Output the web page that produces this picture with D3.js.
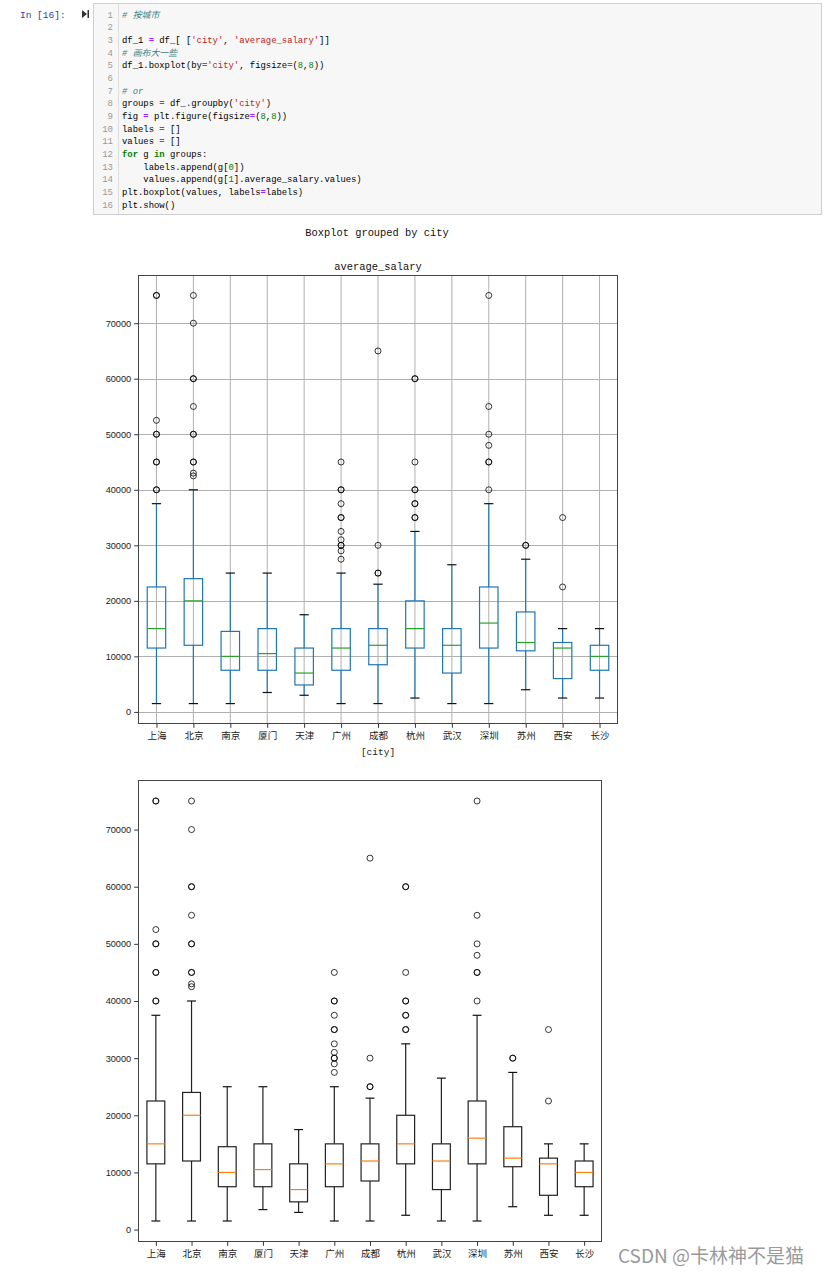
<!DOCTYPE html>
<html><head><meta charset="utf-8">
<script src="https://cdn.jsdelivr.net/npm/d3@7"></script>
<style>
html,body{margin:0;padding:0;background:#fff;}
svg{display:block;}
</style></head>
<body>
<svg id="c" width="825" height="1276"></svg>
<script>
// ---------- data ----------
const cities = ["上海","北京","南京","厦门","天津","广州","成都","杭州","武汉","深圳","苏州","西安","长沙"];
const whiskerLow  = [1500,1500,1500,3500,3000,1500,1500,2500,1500,1500,4000,2500,2500];
const q1          = [11500,12000,7500,7500,4850,7500,8500,11500,7000,11500,11000,6000,7500];
const median      = [15000,20000,10000,10500,7000,11500,12000,15000,12000,16000,12500,11500,10000];
const q3          = [22500,24000,14500,15000,11500,15000,15000,20000,15000,22500,18000,12500,12000];
const whiskerHigh = [37500,40000,25000,25000,17500,25000,23000,32500,26500,37500,27500,15000,15000];
const outliers = [
  [40000,40000,45000,45000,50000,50000,52500,75000,75000],
  [42500,43000,45000,45000,50000,50000,55000,60000,60000,70000,75000],
  [],
  [],
  [],
  [27500,29000,30000,30000,31000,32500,35000,35000,37500,40000,40000,45000],
  [25000,25000,30000,65000],
  [35000,35000,37500,37500,40000,40000,45000,60000,60000],
  [],
  [40000,45000,45000,48000,50000,55000,75000],
  [30000,30000],
  [22500,35000],
  []
];
const yTicks = [0,10000,20000,30000,40000,50000,60000,70000];
const yDomain = [-2175, 78675];

const codeLines = [
  [["# 按城市","cm"]],
  [],
  [["df_1 ",""],["=","op"],[" df_[ [",""],["'city'","st"],[", ",""],["'average_salary'","st"],["]]",""]],
  [["# 画布大一些","cm"]],
  [["df_1.boxplot(by",""],["=","op"],["'city'","st"],[", figsize",""],["=","op"],["(",""],["8","nu"],[",",""],["8","nu"],["))",""]],
  [],
  [["# or","cm"]],
  [["groups ",""],["=","op"],[" df_.groupby(",""],["'city'","st"],[")",""]],
  [["fig ",""],["=","op"],[" plt.figure(figsize",""],["=","op"],["(",""],["8","nu"],[",",""],["8","nu"],["))",""]],
  [["labels ",""],["=","op"],[" []",""]],
  [["values ",""],["=","op"],[" []",""]],
  [["for","kw"],[" g ",""],["in","kw"],[" groups:",""]],
  [["    labels.append(g[",""],["0","nu"],["])",""]],
  [["    values.append(g[",""],["1","nu"],["].average_salary.values)",""]],
  [["plt.boxplot(values, labels",""],["=","op"],["labels)",""]],
  [["plt.show()",""]]
];

// ---------- drawing ----------
const svg = d3.select("#c");
const latin = "'Liberation Sans', Arial, sans-serif";
const cjk = "'Noto Sans CJK SC', 'Liberation Sans', sans-serif";
const mono = "'Liberation Mono', 'Noto Sans CJK SC', monospace";

// code cell
svg.append("text").attr("x",20).attr("y",17.5).attr("font-family",mono).attr("font-size",9.5)
  .attr("fill","#303f9f").text("In  [16]:");
svg.append("path").attr("d","M82,10 L87,14 L82,18 Z M87.5,10 L89,10 L89,18 L87.5,18 Z").attr("fill","#333");
svg.append("rect").attr("x",93.5).attr("y",3.5).attr("width",728).attr("height",211)
  .attr("fill","#f7f7f7").attr("stroke","#cfcfcf");
svg.append("line").attr("x1",118.5).attr("x2",118.5).attr("y1",4).attr("y2",214).attr("stroke","#ddd");
const colorMap = {"":"#000", cm:"#408080", op:"#aa22ff", st:"#ba2121", nu:"#008000", kw:"#008000"};
codeLines.forEach((toks,i)=>{
  const y = 17.5 + i*12.67;
  svg.append("text").attr("x",113).attr("y",y).attr("text-anchor","end")
    .attr("font-family",mono).attr("font-size",9).attr("fill","#999").text(i+1);
  const t = svg.append("text").attr("x",122).attr("y",y).attr("font-family",mono)
    .attr("font-size",8.9).attr("xml:space","preserve").style("white-space","pre");
  toks.forEach(([s,c])=>{
    const ts = t.append("tspan").attr("fill",colorMap[c]).text(s);
    if(c==="cm") ts.attr("font-style","italic");
    if(c==="kw"||c==="op") ts.attr("font-weight","bold");
  });
});

function drawChart(o){
  const g = svg.append("g");
  const x = d3.scaleLinear().domain([0.5, cities.length+0.5]).range([o.left,o.right]);
  const y = d3.scaleLinear().domain(yDomain).range([o.bottom,o.top]);
  const unit = x(2)-x(1);
  const bw = unit*0.5, cw = unit*0.25;
  if(o.grid){
    g.append("g").selectAll("line").data(yTicks).join("line")
      .attr("x1",o.left).attr("x2",o.right).attr("y1",d=>Math.round(y(d))+0.5).attr("y2",d=>Math.round(y(d))+0.5)
      .attr("stroke","#b0b0b0").attr("stroke-width",1);
    g.append("g").selectAll("line").data(cities).join("line")
      .attr("x1",(d,i)=>x(i+1)).attr("x2",(d,i)=>x(i+1)).attr("y1",o.top).attr("y2",o.bottom)
      .attr("stroke","#b0b0b0").attr("stroke-width",1);
  }
  // axes
  const yAxis = d3.axisLeft(y).tickValues(yTicks).tickFormat(d3.format("d")).tickSize(3.8).tickPadding(3);
  const ya = g.append("g").attr("transform",`translate(${o.left},0)`).call(yAxis);
  ya.select(".domain").remove();
  ya.selectAll("text").attr("font-family",latin).attr("font-size",9.2).attr("fill","#222");
  ya.selectAll("line").attr("stroke","#333");
  const xAxis = d3.axisBottom(x).tickValues(d3.range(1,cities.length+1)).tickFormat(d=>cities[d-1]).tickSize(3.8).tickPadding(4);
  const xa = g.append("g").attr("transform",`translate(0,${o.bottom})`).call(xAxis);
  xa.select(".domain").remove();
  xa.selectAll("text").attr("font-family",cjk).attr("font-size",9.5).attr("fill","#222");
  xa.selectAll("line").attr("stroke","#333");

  const boxes = g.append("g").selectAll("g").data(cities).join("g");
  // whiskers
  boxes.append("line").attr("x1",(d,i)=>x(i+1)).attr("x2",(d,i)=>x(i+1))
    .attr("y1",(d,i)=>y(whiskerLow[i])).attr("y2",(d,i)=>y(q1[i]))
    .attr("stroke",o.boxColor).attr("stroke-width",1.2);
  boxes.append("line").attr("x1",(d,i)=>x(i+1)).attr("x2",(d,i)=>x(i+1))
    .attr("y1",(d,i)=>y(q3[i])).attr("y2",(d,i)=>y(whiskerHigh[i]))
    .attr("stroke",o.boxColor).attr("stroke-width",1.2);
  // caps
  [whiskerLow, whiskerHigh].forEach(arr=>{
    boxes.append("line").attr("x1",(d,i)=>x(i+1)-cw/2).attr("x2",(d,i)=>x(i+1)+cw/2)
      .attr("y1",(d,i)=>y(arr[i])).attr("y2",(d,i)=>y(arr[i]))
      .attr("stroke","#111").attr("stroke-width",1.2);
  });
  // box
  boxes.append("rect").attr("x",(d,i)=>x(i+1)-bw/2).attr("width",bw)
    .attr("y",(d,i)=>y(q3[i])).attr("height",(d,i)=>y(q1[i])-y(q3[i]))
    .attr("fill","none").attr("stroke",o.boxColor).attr("stroke-width",1.2);
  // median
  boxes.append("line").attr("x1",(d,i)=>x(i+1)-bw/2).attr("x2",(d,i)=>x(i+1)+bw/2)
    .attr("y1",(d,i)=>y(median[i])).attr("y2",(d,i)=>y(median[i]))
    .attr("stroke",o.medColor).attr("stroke-width",1.2);
  // fliers
  boxes.each(function(d,i){
    d3.select(this).selectAll("circle").data(outliers[i]).join("circle")
      .attr("cx",x(i+1)).attr("cy",v=>y(v)).attr("r",3)
      .attr("fill","none").attr("stroke","#000").attr("stroke-width",1).attr("stroke-opacity",0.78);
  });
  // frame
  g.append("rect").attr("x",o.left+0.5).attr("y",o.top+0.5).attr("width",o.right-o.left-1).attr("height",o.bottom-o.top-1)
    .attr("fill","none").attr("stroke","#444").attr("stroke-width",1);
  return {x,y};
}

// chart 1 (pandas)
drawChart({left:138,right:618,top:275,bottom:724,grid:true,boxColor:"#1f77b4",medColor:"#2ca02c"});
svg.append("text").attr("x",377).attr("y",236).attr("text-anchor","middle")
  .attr("font-family",mono).attr("font-size",10.4).attr("fill","#111").text("Boxplot grouped by city");
svg.append("text").attr("x",378).attr("y",269.5).attr("text-anchor","middle")
  .attr("font-family",mono).attr("font-size",10.4).attr("fill","#111").text("average_salary");
svg.append("text").attr("x",378).attr("y",755).attr("text-anchor","middle")
  .attr("font-family",mono).attr("font-size",9.5).attr("fill","#222").text("[city]");

// chart 2 (matplotlib)
drawChart({left:138,right:602,top:780,bottom:1242,grid:false,boxColor:"#222",medColor:"#ff7f0e"});

// watermark
svg.append("text").attr("x",618).attr("y",1263).attr("font-family",cjk).attr("font-size",19)
  .attr("fill","#9a9a9a").text("CSDN @卡林神不是猫");
</script>
</body></html>
